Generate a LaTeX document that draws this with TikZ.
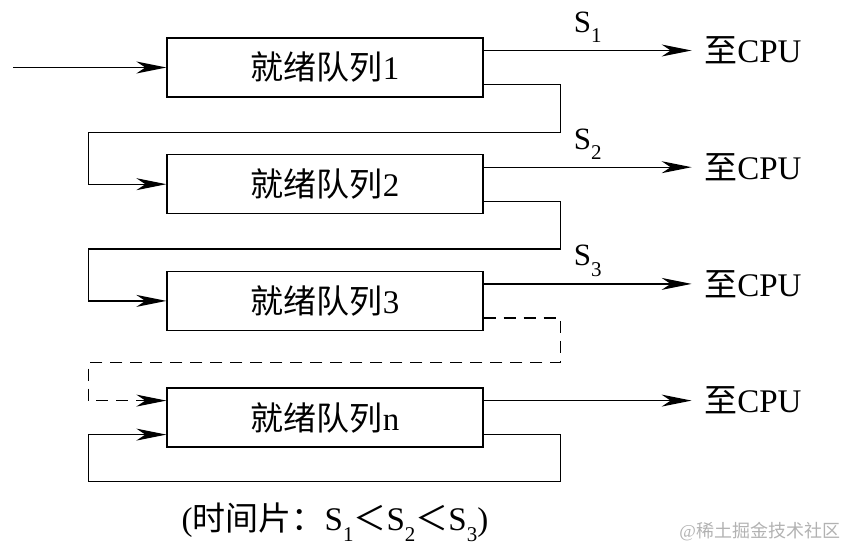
\documentclass[tikz,border=0pt]{standalone}
\usepackage{fontspec}
\setmainfont{Liberation Serif}
\newfontfamily\cjk{Noto Sans CJK SC}
\usetikzlibrary{positioning, arrows.meta}
\newcommand\subs[1]{\raisebox{-0.33em}{\fontsize{21}{21}\selectfont #1}}

\begin{document}
\begin{tikzpicture}[x=1pt,y=-1pt,line width=1.3pt,
    >={Stealth[length=30pt,width=12pt,inset=9pt]},
    node distance=116.7pt,on grid,
    queue/.style={draw,minimum width=316pt,minimum height=59pt,inner sep=0pt,
      font=\fontsize{33}{36}\selectfont},
    dest/.style={anchor=west,inner xsep=12pt,inner ysep=0pt,
      font=\fontsize{33}{36}\selectfont},
    slice/.style={anchor=south,yshift=7pt,inner sep=0pt,
      font=\fontsize{31}{36}\selectfont}]
  \useasboundingbox (0,0) rectangle (859,556);
  \node[queue] (q_1) at (325,67.5) {{\cjk 就绪队列}1};
  \node[queue] (q_2) [below=of q_1] {{\cjk 就绪队列}2};
  \node[queue] (q_3) [below=of q_2] {{\cjk 就绪队列}3};
  \node[queue] (q_n) [below=of q_3] {{\cjk 就绪队列}n};
  \coordinate (in) at (13,67.5);
  \draw[->] (in) -- (q_1);
  % to the CPU
  \foreach \i in {1,2,3,n}
    \node[dest] (cpu_\i) at ([xshift=208pt,yshift=17pt]q_\i.east) {{\cjk 至}CPU};
  \foreach \i in {1,2,3}
    \draw[->] ([yshift=17pt]q_\i.east) -- node[slice] {S\subs{\i}} (cpu_\i.west);
  \draw[->] ([yshift=17pt]q_n.east) -- (cpu_n.west);
  % back to the next queue
  \draw[->] ([yshift=-17pt]q_1.east) -- ++(77pt,0) |- ([xshift=-78pt,yshift=52pt]q_2.west) |- (q_2.west);
  \draw[->] ([yshift=-17pt]q_2.east) -- ++(77pt,0) |- ([xshift=-78pt,yshift=52pt]q_3.west) |- (q_3.west);
  \draw[->,dash pattern=on 12pt off 8pt] ([yshift=-17pt]q_3.east) -- ++(77pt,0)
    |- ([xshift=-78pt,yshift=55pt]q_n.west) |- ([yshift=17pt]q_n.west);
  \draw[->] ([yshift=-17pt]q_n.east) -- ++(77pt,0) |- ([xshift=-78pt,yshift=-64pt]q_n.west)
    |- ([yshift=-17pt]q_n.west);
  \node[font=\fontsize{33}{36}\selectfont] (note) at (335,522)
    {({\cjk 时间片：}S\subs{1}{\cjk ＜}S\subs{2}{\cjk ＜}S\subs{3})};
  \node[font=\fontsize{18}{20}\selectfont,text=black!30,anchor=east] (mark) at (844,532)
    {@{\cjk 稀土掘金技术社区}};
\end{tikzpicture}
\end{document}
